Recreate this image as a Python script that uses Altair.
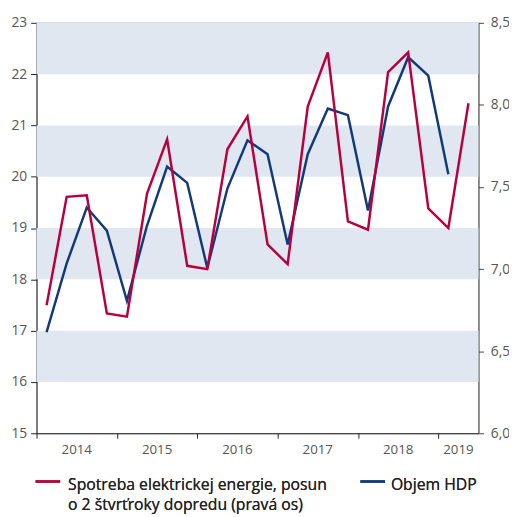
import altair as alt
import pandas as pd

quarters = ["2014Q1","2014Q2","2014Q3","2014Q4","2015Q1","2015Q2","2015Q3","2015Q4",
            "2016Q1","2016Q2","2016Q3","2016Q4","2017Q1","2017Q2","2017Q3","2017Q4",
            "2018Q1","2018Q2","2018Q3","2018Q4","2019Q1","2019Q2"]
# Spotreba elektrickej energie (right axis), shifted 2 quarters ahead
electricity = [6.78, 7.44, 7.45, 6.73, 6.71, 7.46, 7.79, 7.02, 7.00, 7.73, 7.93, 7.15,
               7.03, 7.99, 8.32, 7.29, 7.24, 8.20, 8.32, 7.37, 7.25, 8.01]
# Objem HDP (left axis)
gdp = [16.97, 18.31, 19.40, 18.95, 17.58, 19.05, 20.20, 19.88, 18.22, 19.77, 20.71, 20.44,
       18.68, 20.44, 21.33, 21.20, 19.34, 21.37, 22.33, 21.97, 20.05]
years = ["2014", "2015", "2016", "2017", "2018", "2019"]
year_label_pos = [2014.5, 2015.5, 2016.5, 2017.5, 2018.5, 2019.25]
band_lo = [16, 18, 20, 22]
band_hi = [17, 19, 21, 23]

def qpos(q):
    return int(q[:4]) + (int(q[-1]) - 0.5) / 4

RED = "#b8003f"
BLUE = "#123a78"
BAND = "#e1e7f0"
FONT = "Open Sans"
W, H = 449, 417

df_e = pd.DataFrame({"x": [qpos(q) for q in quarters], "v": electricity})
df_g = pd.DataFrame({"x": [qpos(q) for q in quarters[:len(gdp)]], "v": gdp})
df_b = pd.DataFrame({"lo": band_lo, "hi": band_hi})
df_y = pd.DataFrame({"x": year_label_pos, "t": years})

xscale = alt.Scale(domain=[2014, 2019.5], nice=False, zero=False)
xaxis = alt.Axis(values=[2014, 2015, 2016, 2017, 2018, 2019], labels=False, title=None,
                 tickSize=5, grid=False, domainColor="#222", tickColor="#222")
lscale = alt.Scale(domain=[15, 23], nice=False, zero=False)
rscale = alt.Scale(domain=[6, 8.5], nice=False, zero=False)

bands = alt.Chart(df_b).mark_rect(color=BAND).encode(
    x=alt.value(0), x2=alt.value(W),
    y=alt.Y("lo:Q", scale=lscale, axis=None),
    y2="hi:Q",
)

blue = alt.Chart(df_g).mark_line(color=BLUE, strokeWidth=2.5).encode(
    x=alt.X("x:Q", scale=xscale, axis=xaxis),
    y=alt.Y("v:Q", scale=lscale,
            axis=alt.Axis(orient="left", values=list(range(15, 24)), title=None, grid=False,
                          tickSize=6, labelPadding=4, domainColor="#222", tickColor="#222",
                          labelColor="#555", labelFontSize=14, labelFont=FONT)),
)

red = alt.Chart(df_e).mark_line(color=RED, strokeWidth=2.5).encode(
    x=alt.X("x:Q", scale=xscale, axis=xaxis),
    y=alt.Y("v:Q", scale=rscale,
            axis=alt.Axis(orient="right", values=[6, 6.5, 7, 7.5, 8, 8.5], title=None, grid=False,
                          tickSize=5, labelPadding=7, domainColor="#444", tickColor="#444",
                          labelColor="#555", labelFontSize=14, labelFont=FONT,
                          labelExpr="replace(format(datum.value, '.1f'), '.', ',')")),
)

year_text = alt.Chart(df_y).mark_text(font=FONT, fontSize=13.5, color="#555", baseline="middle").encode(
    x=alt.X("x:Q", scale=xscale, axis=xaxis),
    y=alt.value(H + 17),
    text="t:N",
)

leg_df = pd.DataFrame({"series": ["Spotreba elektrickej energie, posun", "Objem HDP"]})
leg_red_line = alt.Chart(leg_df).mark_rule(color=RED, strokeWidth=2.5).encode(
    x=alt.value(-1), x2=alt.value(24), y=alt.value(466))
leg_red_text = alt.Chart(leg_df).mark_text(
    font=FONT, fontSize=16, color="#222", align="left", baseline="alphabetic", lineHeight=20
).encode(
    x=alt.value(32), y=alt.value(475),
    text=alt.value(["Spotreba elektrickej energie, posun", "o 2 štvrťroky dopredu (pravá os)"]))
leg_blue_line = alt.Chart(leg_df).mark_rule(color=BLUE, strokeWidth=2.5).encode(
    x=alt.value(329), x2=alt.value(354), y=alt.value(466))
leg_blue_text = alt.Chart(leg_df).mark_text(
    font=FONT, fontSize=16, color="#222", align="left", baseline="alphabetic"
).encode(x=alt.value(360), y=alt.value(475), text=alt.value("Objem HDP"))

chart = alt.layer(
    bands, blue, red, year_text,
    leg_red_line, leg_red_text, leg_blue_line, leg_blue_text,
).resolve_scale(y="independent").properties(
    width=W, height=H,
    autosize=alt.AutoSizeParams(type="none"),
    padding={"left": 29, "top": 11, "right": 31, "bottom": 81},
).configure_view(stroke="#b5b5b5", strokeWidth=1.2)

chart.save("out.html", embed_options={"renderer": "svg", "actions": False})
